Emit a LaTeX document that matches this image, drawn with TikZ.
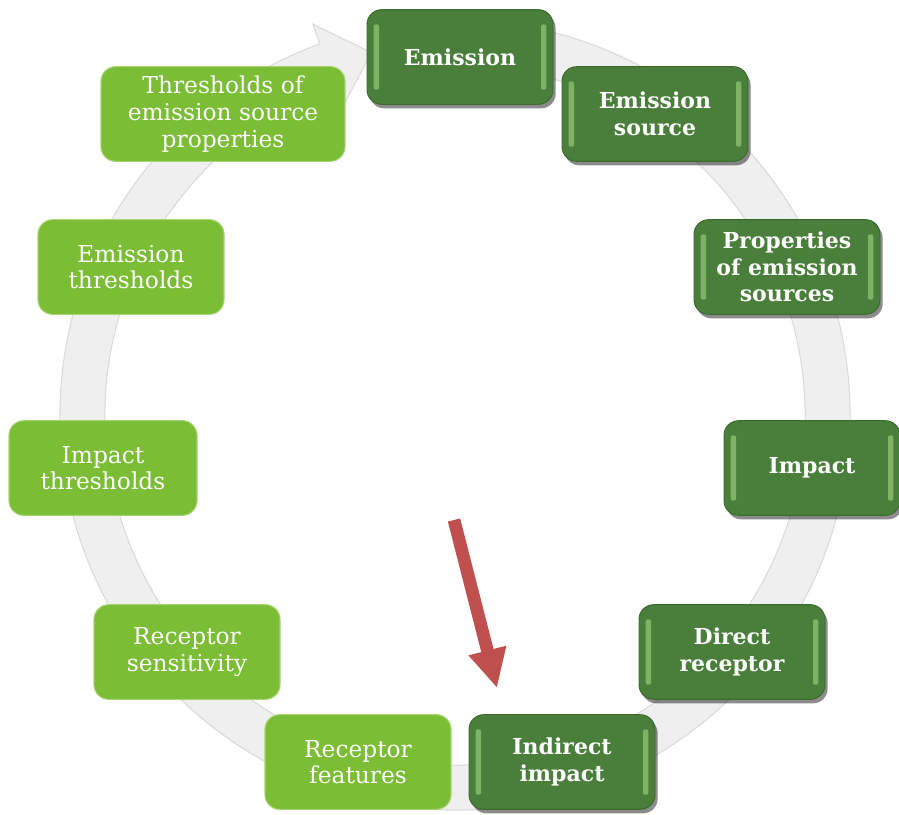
\documentclass[tikz,border=0pt]{standalone}
\usepackage{fontspec}
\setmainfont{DejaVu Serif}
\usetikzlibrary{arrows.meta,shadows,calc}
\definecolor{dgreen}{HTML}{4A7E3B}
\definecolor{dgreenlt}{HTML}{9AD07C}
\definecolor{dgreenbd}{HTML}{3A6A2E}
\definecolor{lgreen}{HTML}{7BBD35}
\definecolor{lgreenbd}{HTML}{A8D470}
\definecolor{redarr}{HTML}{C0504D}
\definecolor{ringfill}{HTML}{EFEFEF}
\definecolor{ringedge}{HTML}{DADADA}
\tikzset{
  boxbase/.style={rounded corners=11pt, minimum width=139.5pt, minimum height=71pt,
    align=center, text=white, inner sep=2pt, font=\fontsize{17.5}{20}\selectfont},
  darkbox/.style={boxbase, font=\fontsize{16.5}{20}\selectfont\bfseries, fill=dgreen, draw=dgreenbd, line width=0.7pt,
    drop shadow={shadow xshift=2pt, shadow yshift=-3pt, opacity=0.45, fill=black},
    path picture={
      \fill[rounded corners=1.5pt, dgreenlt!65!dgreen]
        ([xshift=5pt,yshift=-11pt]path picture bounding box.north west) rectangle
        ([xshift=9pt,yshift=11pt]path picture bounding box.south west);
      \fill[rounded corners=1.5pt, dgreenlt!65!dgreen]
        ([xshift=-9pt,yshift=-11pt]path picture bounding box.north east) rectangle
        ([xshift=-5pt,yshift=11pt]path picture bounding box.south east);
    }},
  lightbox/.style={boxbase, fill=lgreen, draw=lgreenbd, line width=0.8pt},
  ring/.style={fill=ringfill, draw=ringedge, line width=0.8pt},
  redarrow/.style={draw=redarr, line width=9.5pt, -{Triangle[length=29pt,width=27pt]}}
}
\begin{document}
\begin{tikzpicture}[x=0.75pt,y=0.75pt]
\useasboundingbox (0,0) rectangle (899,-814);
% ring
\coordinate (c) at (455,-415);
\path[ring] ($(c)+(80:395)$) arc[start angle=80, end angle=-250, radius=395]
  -- ($(c)+(-250:416)$) -- ($(c)+(-257:372)$) -- ($(c)+(-250:328)$)
  -- ($(c)+(-250:350)$) arc[start angle=-250, end angle=80, radius=350] -- cycle;
% dark boxes
\node[darkbox] (emission) at (460,-57) {Emission};
\node[darkbox] (esource) at (655,-114) {Emission\\source};
\node[darkbox] (props) at (787,-267) {Properties\\of emission\\sources};
\node[darkbox, minimum width=132pt] (impact) at (812,-468) {Impact};
\node[darkbox] (direct) at (732,-652) {Direct\\receptor};
\node[darkbox] (indirect) at (562,-762) {Indirect\\impact};
% light boxes
\node[lightbox] (features) at (358,-762) {Receptor\\features};
\node[lightbox] (sensitivity) at (187,-652) {Receptor\\sensitivity};
\node[lightbox, minimum width=141pt] (ithresh) at (103,-468) {Impact\\thresholds};
\node[lightbox] (ethresh) at (131,-267) {Emission\\thresholds};
\node[lightbox, minimum width=183pt] (tesp) at (223,-114) {Thresholds of\\emission source\\properties};
% red arrow
\coordinate (ra) at (454,-520);
\coordinate (rb) at (497,-688);
\draw[redarrow] (ra) -- (rb);
\end{tikzpicture}
\end{document}
